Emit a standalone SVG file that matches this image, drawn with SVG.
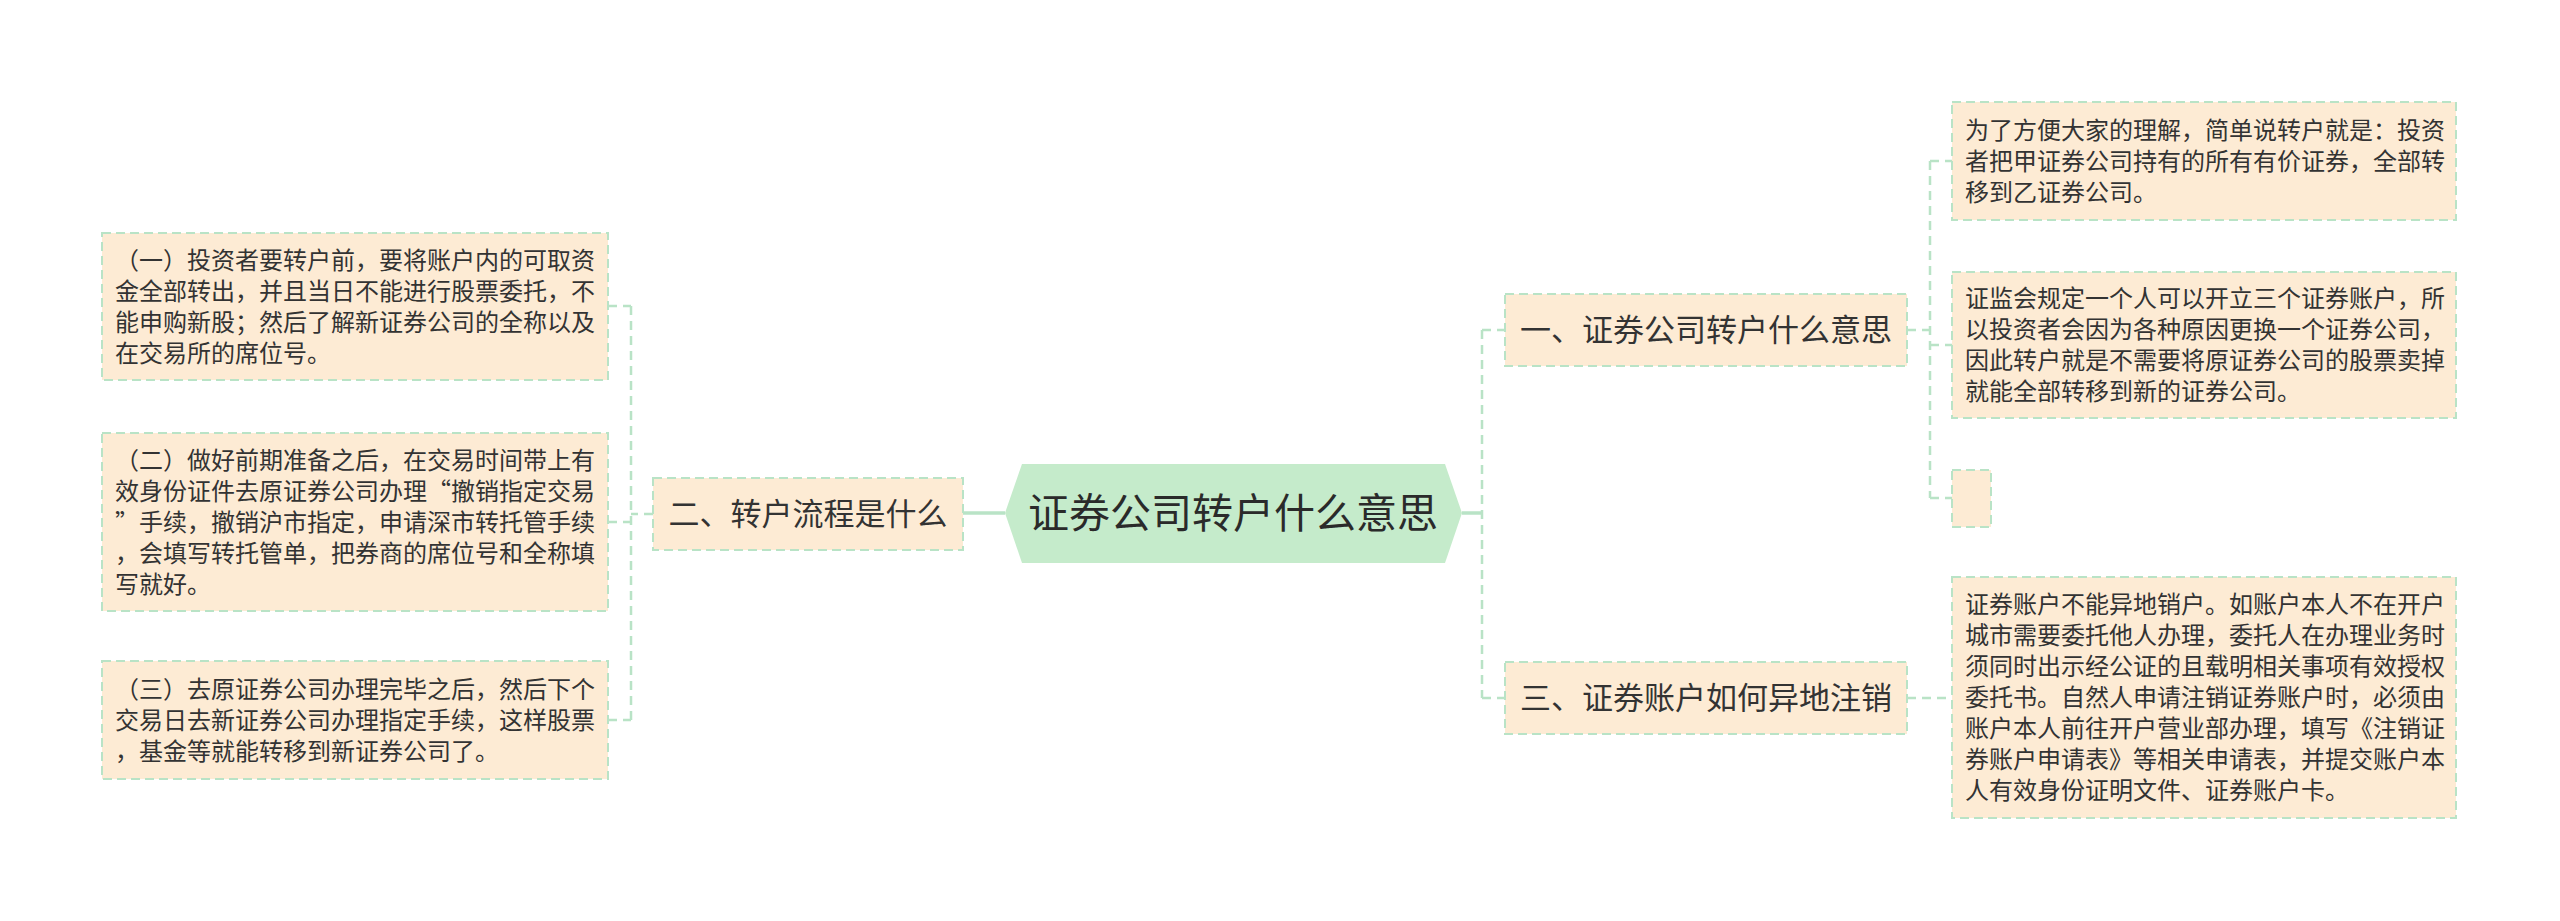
<svg xmlns="http://www.w3.org/2000/svg" width="2560" height="921" viewBox="0 0 2560 921">
<style>
.leaf{fill:#FDEBD4;stroke:#B9E3C6;stroke-width:2;stroke-dasharray:9 5}
.conn{fill:none;stroke:#B9E3C6;stroke-width:2.5;stroke-dasharray:9 6}
.solid{fill:none;stroke:#B9E3C6;stroke-width:3.5}
.hex{fill:#C5EBCB}
.t{font-family:"Noto Sans CJK SC","Noto Sans CJK JP",sans-serif;font-size:24px;fill:#333333}
.t30{font-family:"Noto Sans CJK SC","Noto Sans CJK JP",sans-serif;font-size:31px;fill:#333333;text-anchor:middle}
.t40{font-family:"Noto Sans CJK SC","Noto Sans CJK JP",sans-serif;font-size:41px;fill:#2a2a2a;text-anchor:middle}
</style>
<rect width="2560" height="921" fill="#ffffff"/>
<g id="connectors">
  <path class="solid" d="M963 513 H1005"/>
  <path class="solid" d="M1462 513 H1482"/>
  <path class="conn" d="M653 514 H631 M631 306 V720 M608 306 H631 M608 522 H631 M608 720 H631"/>
  <path class="conn" d="M1482 330 V698 M1482 330 H1505 M1482 698 H1505"/>
  <path class="conn" d="M1907 330 H1930 M1930 161 V498 M1930 161 H1952 M1930 345 H1952 M1930 498 H1952"/>
  <path class="conn" d="M1907 698 H1952"/>
</g>
<g id="center">
  <polygon class="hex" points="1005,513 1022,464 1445,464 1462,513 1445,563 1022,563"/>
  <text class="t40" x="1233" y="528">证券公司转户什么意思</text>
</g>
<g id="node-2">
  <rect class="leaf" x="653" y="478" width="310" height="72"/>
  <text class="t30" x="808" y="525">二、转户流程是什么</text>
</g>
<g id="node-1">
  <rect class="leaf" x="1505" y="294" width="402" height="72"/>
  <text class="t30" x="1706" y="341">一、证券公司转户什么意思</text>
</g>
<g id="node-3">
  <rect class="leaf" x="1505" y="662" width="402" height="72"/>
  <text class="t30" x="1706" y="709">三、证券账户如何异地注销</text>
</g>
<g id="leaf-2-1">
  <rect class="leaf" x="102" y="233" width="506" height="147"/>
  <text class="t"><tspan x="115" y="269">（一）投资者要转户前，要将账户内的可取资</tspan><tspan x="115" y="300">金全部转出，并且当日不能进行股票委托，不</tspan><tspan x="115" y="331">能申购新股；然后了解新证券公司的全称以及</tspan><tspan x="115" y="362">在交易所的席位号。</tspan></text>
</g>
<g id="leaf-2-2">
  <rect class="leaf" x="102" y="433" width="506" height="178"/>
  <text class="t"><tspan x="115" y="469">（二）做好前期准备之后，在交易时间带上有</tspan><tspan x="115" y="500">效身份证件去原证券公司办理“撤销指定交易</tspan><tspan x="115" y="531">”手续，撤销沪市指定，申请深市转托管手续</tspan><tspan x="115" y="562">，会填写转托管单，把券商的席位号和全称填</tspan><tspan x="115" y="593">写就好。</tspan></text>
</g>
<g id="leaf-2-3">
  <rect class="leaf" x="102" y="661" width="506" height="118"/>
  <text class="t"><tspan x="115" y="698">（三）去原证券公司办理完毕之后，然后下个</tspan><tspan x="115" y="729">交易日去新证券公司办理指定手续，这样股票</tspan><tspan x="115" y="760">，基金等就能转移到新证券公司了。</tspan></text>
</g>
<g id="leaf-1-1">
  <rect class="leaf" x="1952" y="102" width="504" height="118"/>
  <text class="t"><tspan x="1965" y="139">为了方便大家的理解，简单说转户就是：投资</tspan><tspan x="1965" y="170">者把甲证券公司持有的所有有价证券，全部转</tspan><tspan x="1965" y="201">移到乙证券公司。</tspan></text>
</g>
<g id="leaf-1-2">
  <rect class="leaf" x="1952" y="272" width="504" height="146"/>
  <text class="t"><tspan x="1965" y="307">证监会规定一个人可以开立三个证券账户，所</tspan><tspan x="1965" y="338">以投资者会因为各种原因更换一个证券公司，</tspan><tspan x="1965" y="369">因此转户就是不需要将原证券公司的股票卖掉</tspan><tspan x="1965" y="400">就能全部转移到新的证券公司。</tspan></text>
</g>
<g id="leaf-1-3">
  <rect class="leaf" x="1952" y="470" width="39" height="57"/>
</g>
<g id="leaf-3-1">
  <rect class="leaf" x="1952" y="577" width="504" height="241"/>
  <text class="t"><tspan x="1965" y="613">证券账户不能异地销户。如账户本人不在开户</tspan><tspan x="1965" y="644">城市需要委托他人办理，委托人在办理业务时</tspan><tspan x="1965" y="675">须同时出示经公证的且载明相关事项有效授权</tspan><tspan x="1965" y="706">委托书。自然人申请注销证券账户时，必须由</tspan><tspan x="1965" y="737">账户本人前往开户营业部办理，填写《注销证</tspan><tspan x="1965" y="768">券账户申请表》等相关申请表，并提交账户本</tspan><tspan x="1965" y="799">人有效身份证明文件、证券账户卡。</tspan></text>
</g>
</svg>
